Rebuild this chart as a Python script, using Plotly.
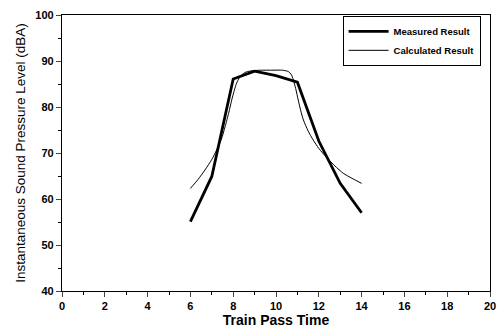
import plotly.graph_objects as go

measured_x = [6, 7, 8, 9, 10, 11, 12, 13, 14]
measured_y = [55.1, 64.9, 86.1, 87.8, 86.8, 85.4, 72.6, 63.4, 57.0]

calc_x = [6.0, 6.35, 6.68, 7.0, 7.23, 7.45, 7.62, 7.8, 7.93, 8.05, 8.16, 8.28, 8.4, 8.6, 8.9, 9.33,
          9.8, 10.3, 10.58, 10.72, 10.81, 10.92, 11.04, 11.15, 11.28, 11.5, 11.74, 12.0, 12.37,
          12.75, 13.14, 13.55, 14.0]
calc_y = [62.3, 64.2, 66.3, 68.6, 70.7, 73.0, 75.7, 78.9, 81.5, 83.6, 85.2, 86.3, 87.0, 87.6, 87.9, 88.0,
          88.0, 88.0, 87.7, 87.0, 85.9, 84.0, 81.5, 79.3, 77.2, 74.8, 72.8, 71.0, 69.0,
          67.2, 65.6, 64.5, 63.4]

x_ticks = list(range(0, 21, 2))
y_ticks = list(range(40, 101, 10))

font = "Liberation Sans, Arial, sans-serif"

fig = go.Figure()
fig.add_trace(go.Scatter(x=measured_x, y=measured_y, mode="lines", name="Measured Result",
                         line=dict(color="black", width=2.8)))
fig.add_trace(go.Scatter(x=calc_x, y=calc_y, mode="lines", name="Calculated Result",
                         line=dict(color="black", width=1, shape="spline", smoothing=0.6)))

fig.update_layout(
    width=499, height=329,
    margin=dict(l=62, r=9, t=15, b=38),
    plot_bgcolor="white", paper_bgcolor="white",
    font=dict(family=font, color="black"),
    showlegend=True,
    legend=dict(x=0.978, y=0.997, xanchor="right", yanchor="top",
                bordercolor="black", borderwidth=1, bgcolor="white",
                font=dict(size=9.5, family=font, weight="bold"), tracegroupgap=0,
                itemwidth=40),
    xaxis=dict(range=[0, 20], tickvals=x_ticks, ticks="outside", ticklen=5, tickwidth=1,
               showline=True, linecolor="black", linewidth=1.3, mirror=True,
               showgrid=False, zeroline=False, automargin=False,
               tickfont=dict(size=11, family=font, weight="bold"),
               minor=dict(dtick=1, ticks="outside", ticklen=3, tickcolor="black"),
               title=dict(text="Train Pass Time", font=dict(size=14, family=font, weight="bold"), standoff=2)),
    yaxis=dict(range=[40, 100], tickvals=y_ticks, ticks="outside", ticklen=5, tickwidth=1,
               showline=True, linecolor="black", linewidth=1.3, mirror=True,
               showgrid=False, zeroline=False, automargin=False,
               tickfont=dict(size=11, family=font, weight="bold"),
               minor=dict(dtick=5, ticks="outside", ticklen=3, tickcolor="black"),
               title=dict(text="Instantaneous Sound Pressure Level (dBA)", font=dict(size=13.5, family=font), standoff=6)),
)

fig.write_html("out.html", config={"displayModeBar": False},
               post_script="document.body.style.margin='0';document.body.style.padding='0';")
